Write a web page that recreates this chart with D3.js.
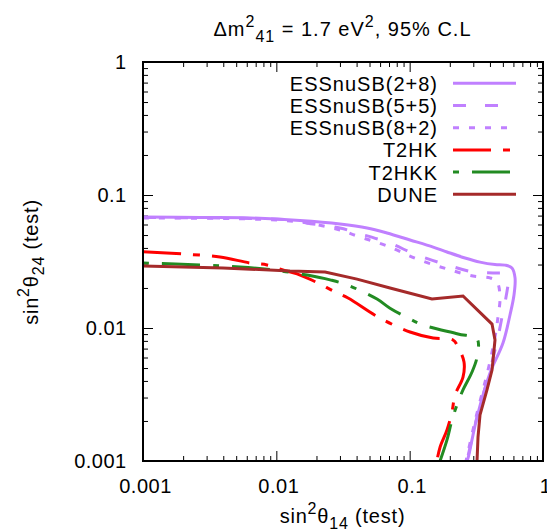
<!DOCTYPE html>
<html>
<head>
<meta charset="utf-8">
<script src="https://d3js.org/d3.v7.min.js"></script>
<style>
  body { margin: 0; background: #fff; }
  svg text { font-family: 'Liberation Sans', Arial, Helvetica, sans-serif; fill: #000; }
</style>
</head>
<body>
<div id="chart"></div>
<script>
// ---- data (sin^2 theta14, sin^2 theta24) ----
var ess28X = [0.001, 0.00268, 0.00635, 0.01505, 0.030, 0.0479, 0.0676, 0.1006, 0.150, 0.1905, 0.260, 0.337, 0.4365, 0.519, 0.585, 0.617, 0.606, 0.5655, 0.501, 0.4005, 0.320, 0.274, 0.269];
var ess28Y = [0.0684, 0.0677, 0.0672, 0.0643, 0.0605, 0.0565, 0.0518, 0.0459, 0.0406, 0.0373, 0.0336, 0.0313, 0.0300, 0.0297, 0.0283, 0.0238, 0.0177, 0.01253, 0.00771, 0.00459, 0.00214, 0.00105, 0.001];

var ess55X = [0.001, 0.00635, 0.01505, 0.0170, 0.030, 0.0403, 0.0676, 0.1135, 0.1905, 0.2985, 0.4217, 0.519, 0.546, 0.528, 0.4927, 0.4597, 0.4005, 0.320, 0.269];
var ess55Y = [0.0677, 0.0666, 0.0638, 0.0616, 0.0565, 0.0518, 0.0443, 0.0354, 0.0298, 0.0264, 0.0259, 0.0255, 0.0230, 0.0171, 0.0121, 0.00855, 0.00483, 0.00214, 0.001];

var ess82X = [0.001, 0.00635, 0.01505, 0.030, 0.0403, 0.0676, 0.1135, 0.1905, 0.2985, 0.4005, 0.452, 0.476, 0.4597, 0.4365, 0.387, 0.3145, 0.2646];
var ess82Y = [0.0672, 0.0660, 0.0627, 0.0546, 0.0492, 0.0414, 0.0330, 0.0278, 0.0246, 0.0238, 0.0222, 0.0171, 0.0121, 0.00855, 0.00483, 0.00214, 0.001];

var t2hkX = [0.001, 0.0020, 0.00378, 0.00635, 0.00851, 0.0112, 0.0143, 0.0205, 0.0266, 0.0345, 0.0579, 0.1006, 0.150, 0.2113, 0.2304, 0.2556, 0.2512, 0.2188, 0.2077, 0.1905, 0.169, 0.160];
var t2hkY = [0.0375, 0.0360, 0.0342, 0.0308, 0.0298, 0.0273, 0.0255, 0.0218, 0.0190, 0.0168, 0.0121, 0.00933, 0.00841, 0.00813, 0.0072, 0.00555, 0.00428, 0.00313, 0.00234, 0.00171, 0.00127, 0.001];

var t2hkkX = [0.001, 0.00268, 0.00534, 0.00944, 0.0170, 0.0253, 0.0339, 0.0569, 0.0712, 0.0972, 0.1259, 0.2304, 0.320, 0.320, 0.2935, 0.2512, 0.2265, 0.2077, 0.1905, 0.169];
var t2hkkY = [0.0308, 0.0298, 0.0288, 0.0273, 0.0250, 0.0230, 0.0211, 0.0165, 0.0141, 0.01189, 0.01054, 0.00902, 0.00827, 0.00605, 0.00467, 0.00342, 0.00264, 0.00203, 0.00144, 0.001];

var duneX = [0.001, 0.00398, 0.01266, 0.0232, 0.0403, 0.0712, 0.147, 0.2512, 0.4146, 0.4365, 0.4146, 0.380, 0.337, 0.3255, 0.320];
var duneY = [0.0293, 0.0283, 0.0268, 0.0264, 0.0233, 0.0200, 0.0165, 0.0174, 0.0107, 0.00813, 0.00483, 0.00342, 0.00222, 0.00151, 0.001];

var seriesNames = ["ESSnuSB(2+8)", "ESSnuSB(5+5)", "ESSnuSB(8+2)", "T2HK", "T2HKK", "DUNE"];
var seriesColors = ["#c080ff", "#c080ff", "#c080ff", "#ff0000", "#228b22", "#a52a2a"];
var seriesDash = [null, "13,19", "6,10", "38,12,7,12", "6,13,38,13", null];
var tickValues = [0.001, 0.01, 0.1, 1];
var tickLabels = ["0.001", "0.01", "0.1", "1"];

var seriesX = [ess28X, ess55X, ess82X, t2hkX, t2hkkX, duneX];
var seriesY = [ess28Y, ess55Y, ess82Y, t2hkY, t2hkkY, duneY];

/* ------------------------------------------------------------ */
var width = 547, height = 529;
var mLeft = 143, mRight = 543, mTop = 62, mBottom = 461;

var svg = d3.select("#chart").append("svg")
    .attr("width", width)
    .attr("height", height);

var x = d3.scaleLog().domain([0.001, 1]).range([mLeft, mRight]);
var y = d3.scaleLog().domain([0.001, 1]).range([mBottom, mTop]);

var minors = x.ticks().filter(v => Math.abs(Math.log10(v) - Math.round(Math.log10(v))) > 1e-6);
var fmt = d => tickLabels[tickValues.indexOf(d)];

// ticks: inward on all four sides, like gnuplot
function styleAxis(g) {
    g.select(".domain").remove();
    g.attr("font-family", null).attr("font-size", null);
    g.selectAll("line").attr("stroke", "#000").attr("stroke-width", 1);
    g.selectAll("text").attr("font-size", 20).attr("letter-spacing", 0.5).attr("fill", "#000");
}
svg.append("g").attr("transform", `translate(0,${mBottom})`)
    .call(d3.axisBottom(x).tickValues(tickValues).tickFormat(fmt).tickSize(-10).tickSizeOuter(0).tickPadding(17.5))
    .call(styleAxis)
    .call(g => g.selectAll("text").attr("dx", 2));
svg.append("g").attr("transform", `translate(0,${mBottom})`)
    .call(d3.axisBottom(x).tickValues(minors).tickFormat("").tickSize(-5).tickSizeOuter(0)).call(styleAxis);
svg.append("g").attr("transform", `translate(0,${mTop})`)
    .call(d3.axisTop(x).tickValues(tickValues).tickFormat("").tickSize(-10).tickSizeOuter(0)).call(styleAxis);
svg.append("g").attr("transform", `translate(0,${mTop})`)
    .call(d3.axisTop(x).tickValues(minors).tickFormat("").tickSize(-5).tickSizeOuter(0)).call(styleAxis);
svg.append("g").attr("transform", `translate(${mLeft},0)`)
    .call(d3.axisLeft(y).tickValues(tickValues).tickFormat(fmt).tickSize(-10).tickSizeOuter(0).tickPadding(16.3))
    .call(styleAxis);
svg.append("g").attr("transform", `translate(${mLeft},0)`)
    .call(d3.axisLeft(y).tickValues(minors).tickFormat("").tickSize(-5).tickSizeOuter(0)).call(styleAxis);
svg.append("g").attr("transform", `translate(${mRight},0)`)
    .call(d3.axisRight(y).tickValues(tickValues).tickFormat("").tickSize(-10).tickSizeOuter(0)).call(styleAxis);
svg.append("g").attr("transform", `translate(${mRight},0)`)
    .call(d3.axisRight(y).tickValues(minors).tickFormat("").tickSize(-5).tickSizeOuter(0)).call(styleAxis);

// curves
svg.append("clipPath").attr("id", "clip")
    .append("rect").attr("x", mLeft).attr("y", mTop).attr("width", mRight - mLeft).attr("height", mBottom - mTop);

var line = d3.line()
    .x(d => x(d[0]))
    .y(d => y(d[1]))
    .curve(d3.curveCatmullRom.alpha(0.5));
var lineSharp = d3.line().x(d => x(d[0])).y(d => y(d[1]));

var plot = svg.append("g").attr("clip-path", "url(#clip)");
seriesNames.forEach((name, i) => {
    var pts = seriesX[i].map((v, j) => [v, seriesY[i][j]]);
    plot.append("path")
        .attr("d", (name == "DUNE" ? lineSharp : line)(pts))
        .attr("fill", "none")
        .attr("stroke", seriesColors[i])
        .attr("stroke-width", 3)
        .attr("stroke-dasharray", seriesDash[i]);
});

// border
svg.append("rect")
    .attr("x", mLeft).attr("y", mTop)
    .attr("width", mRight - mLeft).attr("height", mBottom - mTop)
    .attr("fill", "none").attr("stroke", "#000").attr("stroke-width", 2);

// key
var key = svg.append("g");
seriesNames.forEach((name, i) => {
    var ky = 83.3 + i * 22.2;
    key.append("text")
        .attr("x", 438).attr("y", ky + 7.5)
        .attr("text-anchor", "end")
        .attr("font-size", 20)
        .attr("letter-spacing", 1)
        .text(name);
    key.append("line")
        .attr("x1", 453).attr("x2", 516)
        .attr("y1", ky).attr("y2", ky)
        .attr("stroke", seriesColors[i])
        .attr("stroke-width", 3)
        .attr("stroke-dasharray", seriesDash[i]);
});

// title
var title = svg.append("text")
    .attr("x", 342.5).attr("y", 35.7)
    .attr("text-anchor", "middle")
    .attr("font-size", 20)
    .attr("letter-spacing", 1);
title.append("tspan").text("Δm");
title.append("tspan").attr("font-size", 16).attr("dy", -9).text("2");
title.append("tspan").attr("font-size", 16).attr("dy", 15).text("41");
title.append("tspan").attr("dy", -6).text("\u00a0=\u00a01.7\u00a0eV");
title.append("tspan").attr("font-size", 16).attr("dy", -9).text("2");
title.append("tspan").attr("dy", 9).text(",\u00a095%\u00a0C.L");

// x label
var xl = svg.append("text")
    .attr("x", 342.5).attr("y", 523)
    .attr("text-anchor", "middle")
    .attr("font-size", 20)
    .attr("letter-spacing", 0.8);
xl.append("tspan").text("sin");
xl.append("tspan").attr("font-size", 16).attr("dy", -9).text("2");
xl.append("tspan").attr("dy", 9).text("θ");
xl.append("tspan").attr("font-size", 16).attr("dy", 6).text("14");
xl.append("tspan").attr("dy", -6).text("\u00a0(test)");

// y label
var yl = svg.append("text")
    .attr("transform", "translate(38,262) rotate(-90)")
    .attr("text-anchor", "middle")
    .attr("font-size", 20)
    .attr("letter-spacing", 0.8);
yl.append("tspan").text("sin");
yl.append("tspan").attr("font-size", 16).attr("dy", -9).text("2");
yl.append("tspan").attr("dy", 9).text("θ");
yl.append("tspan").attr("font-size", 16).attr("dy", 6).text("24");
yl.append("tspan").attr("dy", -6).text("\u00a0(test)");
</script>
</body>
</html>
